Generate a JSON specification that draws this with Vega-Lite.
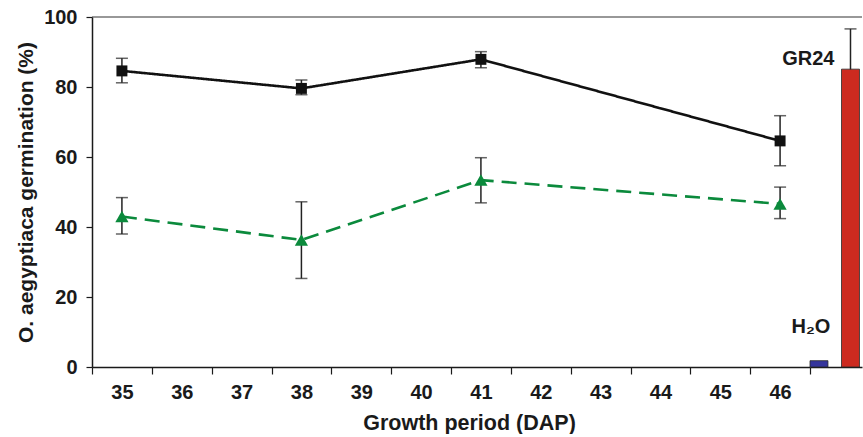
{
  "$schema": "https://vega.github.io/schema/vega-lite/v6.json",
  "padding": {"left": 15, "top": 7, "right": 0, "bottom": 0},
  "background": "white",
  "bounds": "flush",
  "spacing": 0,
  "resolve": {"scale": {"color": "independent"}},
  "config": {
    "view": {"stroke": null},
    "font": "Liberation Sans",
    "axis": {
      "grid": false,
      "domainColor": "#1a1a1a",
      "domainWidth": 1.5,
      "tickColor": "#1a1a1a",
      "tickWidth": 1.2,
      "labelFont": "Liberation Sans",
      "labelFontSize": 20,
      "labelFontWeight": "bold",
      "labelColor": "#1a1a1a",
      "titleFont": "Liberation Sans",
      "titleFontWeight": "bold",
      "titleColor": "#1a1a1a"
    },
    "axisY": {"tickSize": 6, "labelPadding": 9, "titlePadding": 7, "titleFontSize": 21},
    "axisX": {"tickSize": 7, "labelAngle": 0, "labelPadding": 8, "titlePadding": 10, "titleFontSize": 21.5}
  },
  "datasets": {
    "series": [
      {"dap": 35, "group": "Series 1", "mean": 84.6, "low": 81.2, "high": 88.2},
      {"dap": 38, "group": "Series 1", "mean": 79.6, "low": 77.8, "high": 82.0},
      {"dap": 41, "group": "Series 1", "mean": 87.9, "low": 85.5, "high": 90.1},
      {"dap": 46, "group": "Series 1", "mean": 64.6, "low": 57.5, "high": 71.8},
      {"dap": 35, "group": "Series 2", "mean": 43.0, "low": 38.0, "high": 48.4},
      {"dap": 38, "group": "Series 2", "mean": 36.3, "low": 25.3, "high": 47.2},
      {"dap": 41, "group": "Series 2", "mean": 53.4, "low": 46.9, "high": 59.8},
      {"dap": 46, "group": "Series 2", "mean": 46.6, "low": 42.4, "high": 51.4}
    ],
    "controls": [
      {"treatment": "H2O", "label": "H₂O", "value": 1.8, "low": 1.8, "high": 1.8},
      {"treatment": "GR24", "label": "GR24", "value": 85.1, "low": 73.6, "high": 96.6}
    ]
  },
  "hconcat": [
    {
      "width": 718,
      "height": 350,
      "layer": [
        {
          "data": {"values": [{}]},
          "mark": {"type": "rule", "color": "#333", "strokeWidth": 1.2},
          "encoding": {"y": {"datum": 100, "type": "quantitative", "scale": {"domain": [0, 100]}, "title": "O. aegyptiaca germination (%)", "axis": {"values": [0, 20, 40, 60, 80, 100]}}}
        },
        {
          "data": {"name": "series"},
          "mark": {"type": "errorbar", "color": "#222222", "thickness": 1.5, "ticks": {"size": 12, "thickness": 1.5, "color": "#222222"}},
          "encoding": {
            "x": {"field": "dap", "type": "ordinal", "scale": {"type": "band", "domain": [35, 36, 37, 38, 39, 40, 41, 42, 43, 44, 45, 46], "paddingInner": 0, "paddingOuter": 0}, "title": "Growth period (DAP)", "axis": {"tickBand": "extent", "labelDx": -8, "titleX": 377}},
            "y": {"field": "low", "type": "quantitative", "title": "O. aegyptiaca germination (%)"},
            "y2": {"field": "high"}
          }
        },
        {
          "data": {"name": "series"},
          "mark": {"type": "line", "strokeWidth": 2.6},
          "encoding": {
            "x": {"field": "dap", "type": "ordinal", "title": "Growth period (DAP)"},
            "y": {"field": "mean", "type": "quantitative", "title": "O. aegyptiaca germination (%)"},
            "color": {"field": "group", "type": "nominal", "scale": {"domain": ["Series 1", "Series 2"], "range": ["#111111", "#0b8a3c"]}, "legend": null},
            "strokeDash": {"field": "group", "type": "nominal", "scale": {"domain": ["Series 1", "Series 2"], "range": [[1, 0], [15, 8]]}, "legend": null}
          }
        },
        {
          "data": {"name": "series"},
          "mark": {"type": "point", "filled": true, "opacity": 1},
          "encoding": {
            "x": {"field": "dap", "type": "ordinal", "title": "Growth period (DAP)"},
            "y": {"field": "mean", "type": "quantitative", "title": "O. aegyptiaca germination (%)"},
            "color": {"field": "group", "type": "nominal", "legend": null},
            "shape": {"field": "group", "type": "nominal", "scale": {"domain": ["Series 1", "Series 2"], "range": ["square", "triangle-up"]}, "legend": null},
            "size": {"field": "group", "type": "nominal", "scale": {"domain": ["Series 1", "Series 2"], "range": [120, 175]}, "legend": null}
          }
        }
      ]
    },
    {
      "width": 52,
      "height": 350,
      "data": {"name": "controls"},
      "layer": [
        {
          "data": {"values": [{}]},
          "mark": {"type": "rule", "color": "#333", "strokeWidth": 1.2},
          "encoding": {"y": {"datum": 100, "type": "quantitative", "scale": {"domain": [0, 100]}, "axis": null}}
        },
        {
          "transform": [{"filter": "datum.treatment === 'GR24'"}],
          "mark": {"type": "errorbar", "color": "#222222", "thickness": 1.5, "ticks": {"size": 12, "thickness": 1.5, "color": "#222222"}},
          "encoding": {
            "x": {"field": "treatment", "type": "nominal", "scale": {"type": "band", "domain": ["H2O", "GR24"], "paddingInner": 0.43, "paddingOuter": 0.04, "align": 0}, "axis": {"title": null, "labels": false, "ticks": false}},
            "y": {"field": "low", "type": "quantitative", "axis": null},
            "y2": {"field": "high"}
          }
        },
        {
          "mark": {"type": "bar", "stroke": "#2a2a2a", "strokeWidth": 0.8},
          "encoding": {
            "x": {"field": "treatment", "type": "nominal", "axis": {"title": null, "labels": false, "ticks": false}},
            "y": {"field": "value", "type": "quantitative", "axis": null},
            "color": {"field": "treatment", "type": "nominal", "scale": {"domain": ["H2O", "GR24"], "range": ["#35359c", "#cc2a1f"]}, "legend": null}
          }
        },
        {
          "transform": [{"filter": "datum.treatment === 'H2O'"}],
          "mark": {"type": "text", "font": "Liberation Sans", "fontSize": 20, "fontWeight": "bold", "color": "#1a1a1a", "align": "center", "baseline": "alphabetic", "dx": -8, "dy": -28},
          "encoding": {
            "x": {"field": "treatment", "type": "nominal", "axis": {"title": null, "labels": false, "ticks": false}},
            "y": {"field": "value", "type": "quantitative", "axis": null},
            "text": {"field": "label"}
          }
        },
        {
          "transform": [{"filter": "datum.treatment === 'GR24'"}],
          "mark": {"type": "text", "font": "Liberation Sans", "fontSize": 20, "fontWeight": "bold", "color": "#1a1a1a", "align": "right", "baseline": "alphabetic", "dx": -16, "dy": -4},
          "encoding": {
            "x": {"field": "treatment", "type": "nominal", "axis": {"title": null, "labels": false, "ticks": false}},
            "y": {"field": "value", "type": "quantitative", "axis": null},
            "text": {"field": "label"}
          }
        }
      ]
    }
  ]
}
